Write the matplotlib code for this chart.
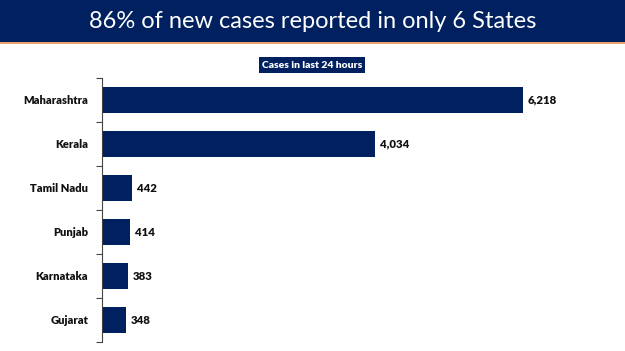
import matplotlib.pyplot as plt
import numpy as np

states = ['Maharashtra', 'Kerala', 'Tamil Nadu', 'Punjab', 'Karnataka', 'Gujarat']
cases = [6218, 4034, 442, 414, 383, 348]

title = '86% of new cases reported in only 6 States'
legend_text = 'Cases in last 24 hours'

navy = '#002060'

plt.rcParams['font.family'] = ['Lato', 'DejaVu Sans']

fig = plt.figure(figsize=(6.25, 3.51), dpi=100)

# header band
band = fig.add_axes([0, 1 - 42 / 351, 1, 42 / 351])
band.set_facecolor(navy)
band.set_xticks([])
band.set_yticks([])
for s in band.spines.values():
    s.set_visible(False)
band.text(0.5, 0.5, title, color='white', fontsize=17, ha='center', va='center',
          transform=band.transAxes)
fig.add_artist(plt.Line2D([0, 1], [1 - 43 / 351] * 2, color='#E8914F', lw=1.2,
                          transform=fig.transFigure))

# bar chart
ax = fig.add_axes([102 / 625, 9 / 351, 500 / 625, 264 / 351])
y = np.arange(len(states))
ax.barh(y, cases, height=0.58, color=navy)
ax.set_ylim(len(states) - 0.5, -0.5)
ax.set_xlim(0, 500 / 0.0677)

for yi, v in zip(y, cases):
    ax.text(v + 75, yi, f'{v:,}', va='center', ha='left', fontsize=8.2,
            fontweight='heavy', color='#111111')

ax.set_yticks(y)
ax.set_yticklabels(states, fontsize=8, fontweight='heavy', color='#111111')
ax.tick_params(axis='y', which='major', length=0, pad=10)
ax.set_yticks(np.arange(-0.5, len(states)), minor=True)
ax.tick_params(axis='y', which='minor', length=4, width=0.8, color='#444444')
ax.set_xticks([])
for side in ['top', 'right', 'bottom']:
    ax.spines[side].set_visible(False)
ax.spines['left'].set_color('#444444')
ax.spines['left'].set_linewidth(0.8)

fig.text(312 / 625, 1 - 65 / 351, legend_text, color='white', fontsize=7.5,
         fontweight='heavy', ha='center', va='center',
         bbox=dict(boxstyle='square,pad=0.3', fc=navy, ec='none'))

fig.savefig('out.png', dpi=100)
